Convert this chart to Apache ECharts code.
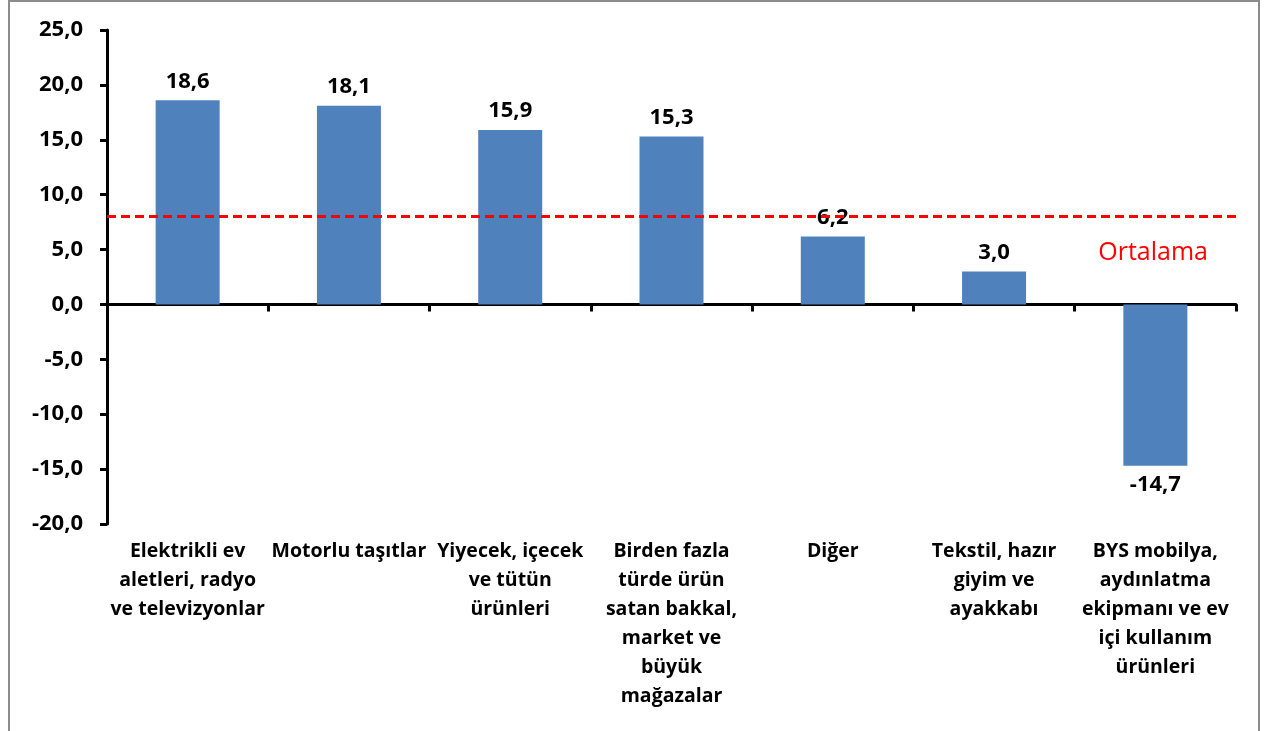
<!DOCTYPE html>
<html>
<head>
<meta charset="utf-8">
<script src="https://cdn.jsdelivr.net/npm/echarts@6/dist/echarts.min.js"></script>
<style>
  html, body { margin: 0; padding: 0; background: #fff; }
  #chart { width: 1266px; height: 731px; }
  #frame {
    position: absolute; left: 8px; top: 0; width: 1252px; height: 760px;
    border: 2px solid #8c8c8c; box-sizing: border-box; pointer-events: none;
  }
</style>
</head>
<body>
<div id="chart"></div>
<div id="frame"></div>
<script>
var categories = [
    'Elektrikli ev\naletleri, radyo\nve televizyonlar',
    'Motorlu taşıtlar',
    'Yiyecek, içecek\nve tütün\nürünleri',
    'Birden fazla\ntürde ürün\nsatan bakkal,\nmarket ve\nbüyük\nmağazalar',
    'Diğer',
    'Tekstil, hazır\ngiyim ve\nayakkabı',
    'BYS mobilya,\naydınlatma\nekipmanı ve ev\niçi kullanım\nürünleri'
];
var values = [18.6, 18.1, 15.9, 15.3, 6.2, 3.0, -14.7];
var average = 8.0;
var averageLabel = 'Ortalama';

var fmt = function(v) {
    return v.toFixed(1).replace('.', ',');
};

var chart = echarts.init(document.getElementById('chart'));

var barData = values.map(function(v) {
    return {
        value: v,
        label: { position: v < 0 ? 'bottom' : 'top' }
    };
});

var option = {
    animation: false,
    textStyle: { fontFamily: 'Open Sans' },
    grid: { left: 107, right: 30, top: 30, bottom: 207 },
    xAxis: [{
        type: 'category',
        data: categories,
        axisLine: { onZero: true, lineStyle: { color: '#000', width: 3 } },
        axisTick: { show: true, length: 7, lineStyle: { color: '#000', width: 3 } },
        axisLabel: { show: false }
    }, {
        type: 'category',
        data: categories,
        position: 'bottom',
        axisLine: { show: false, onZero: false },
        axisTick: { show: false },
        axisLabel: {
            interval: 0,
            margin: 13,
            color: '#000',
            fontWeight: 'bold',
            fontSize: 19.5,
            lineHeight: 29,
            fontFamily: 'Open Sans'
        }
    }],
    yAxis: {
        type: 'value',
        min: -20,
        max: 25,
        interval: 5,
        axisLine: { show: true, lineStyle: { color: '#000', width: 3 } },
        axisTick: { show: true, length: 7, lineStyle: { color: '#000', width: 3 } },
        splitLine: { show: false },
        axisLabel: {
            color: '#000',
            fontWeight: 'bold',
            fontSize: 22,
            margin: 24,
            fontFamily: 'Open Sans',
            formatter: fmt
        }
    },
    series: [{
        type: 'bar',
        data: barData,
        barWidth: 64,
        itemStyle: { color: '#4F81BD' },
        label: {
            show: true,
            color: '#000',
            fontWeight: 'bold',
            fontSize: 22,
            distance: 8,
            fontFamily: 'Open Sans',
            formatter: function(p) { return fmt(p.value); }
        },
        markLine: {
            silent: true,
            symbol: 'none',
            lineStyle: { color: '#ff0000', width: 3, type: [9, 5] },
            label: {
                show: true,
                position: 'insideEndBottom',
                distance: [28, 24],
                color: '#ff0000',
                fontSize: 25,
                fontFamily: 'Open Sans',
                formatter: averageLabel
            },
            data: [{ yAxis: average }]
        }
    }]
};

chart.setOption(option);
</script>
</body>
</html>
